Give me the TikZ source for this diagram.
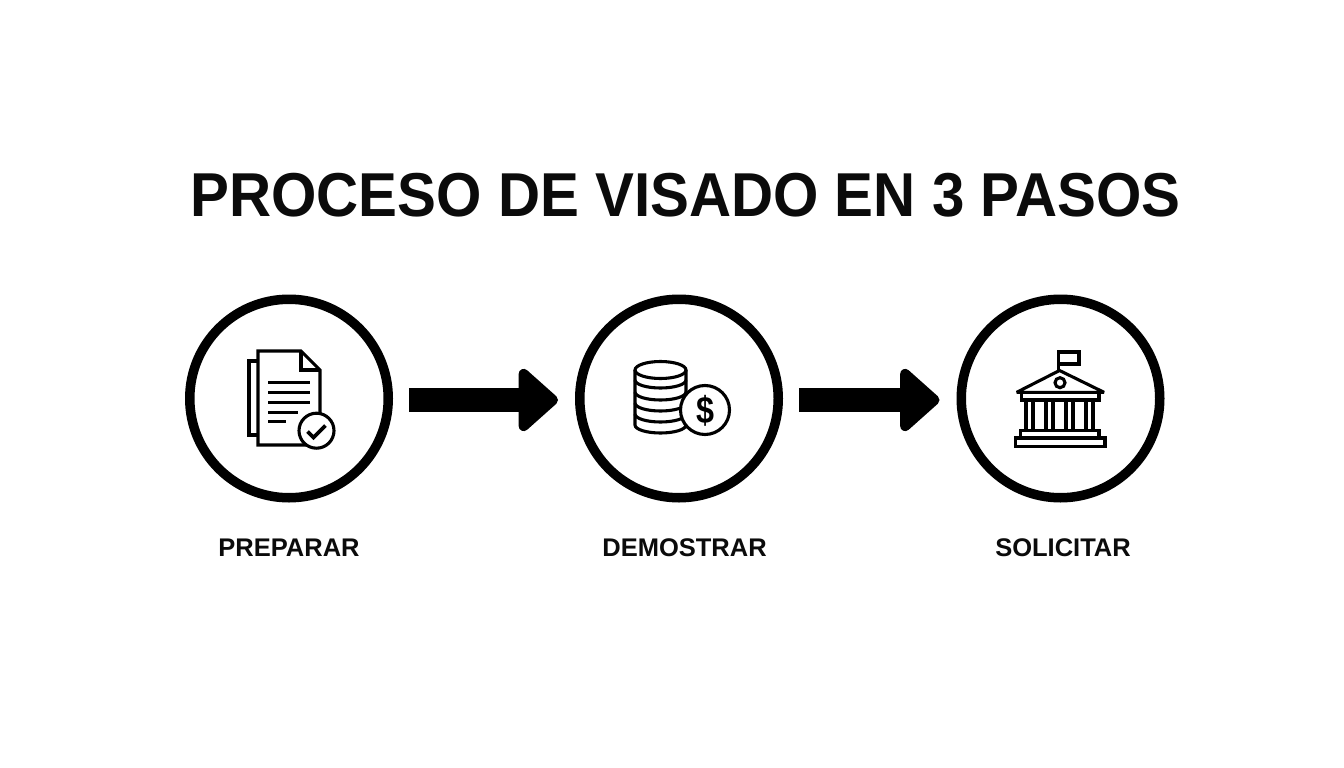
\documentclass[tikz,border=0pt]{standalone}
\usepackage{fontspec}
\setmainfont{Liberation Sans}
\newfontfamily\titlefont[FakeStretch=0.94]{Liberation Sans}
\newfontfamily\dollarfont[FakeStretch=0.85]{Liberation Sans}
\usetikzlibrary{arrows.meta}
\definecolor{ink}{HTML}{0B0B0B}
\tikzset{
  ring/.style={circle,draw=black,line width=9.5pt,fill=white,minimum size=198.5pt,inner sep=0pt},
  titletext/.style={anchor=base,font=\fontsize{62}{62}\titlefont\bfseries,text=ink},
  steplabel/.style={anchor=base,font=\fontsize{25.5}{26}\selectfont\bfseries,text=ink},
  flow/.style={draw=black,line width=24.6pt,shorten <=16pt,shorten >=17pt,
    -{Triangle[round,length=42pt,width=72pt,line width=10pt]}},
  icon/.style={draw=black,line width=3.1pt,line join=miter,miter limit=3,line cap=butt},
}
\begin{document}
\begin{tikzpicture}[x=1pt,y=-1pt]
\useasboundingbox[fill=white] (0,0) rectangle (1344,768);
\node[titletext] (title) at (685.5,216) {PROCESO DE VISADO EN 3 PASOS};
\node[ring] (c1) at (289,398.5) {};
\node[ring] (c2) at (679,398.5) {};
\node[ring] (c3) at (1060.5,398.5) {};
\node[steplabel] (l1) at (289,556) {PREPARAR};
\node[steplabel] (l2) at (684.5,556) {DEMOSTRAR};
\node[steplabel] (l3) at (1063,556) {SOLICITAR};
\draw[flow] ([yshift=-1.5pt]c1.east) -- ([yshift=-1.5pt]c2.west);
\draw[flow] ([yshift=-1.5pt]c2.east) -- ([yshift=-1.5pt]c3.west);
% document icon
\draw[icon] (258,361) -- (249,361) -- (249,435) -- (258,435);
\draw[icon] (258,351) -- (301,351) -- (320,370) -- (320,445) -- (258,445) -- cycle;
\draw[icon] (301,351) -- (301,370) -- (320,370);
\foreach \yy/\xx in {382.7/310,392.3/310,402.3/310,412.3/298,421.7/286}
  \draw[icon] (268,\yy) -- (\xx,\yy);
\draw[icon,fill=white] (316.5,430.7) circle[radius=17.5];
\draw[icon,line width=3.6pt] (307.5,431.5) -- (313.5,437.5) -- (325.5,425.5);
% coins icon
\draw[icon] (635,370) -- (635,425) arc[start angle=180,end angle=0,x radius=25.5,y radius=8] -- (686,370);
\draw[icon] (660.5,370) ellipse[x radius=25.5,y radius=8.5];
\foreach \yy in {380,392,403,414}
  \draw[icon] (635,\yy) arc[start angle=180,end angle=0,x radius=25.5,y radius=8];
\draw[icon,fill=white] (705,410) circle[radius=24.5];
\node[font=\fontsize{38}{38}\dollarfont\bfseries,text=black,inner sep=0pt] (dollar) at (705,411) {\$};
% bank icon
\draw[icon] (1058.5,370) -- (1058.5,352) -- (1079,352) -- (1079,364) -- (1058.5,364);
\draw[icon] (1059.5,370.5) -- (1104,392.3) -- (1016.7,392.3) -- cycle;
\draw[icon] (1060,382.7) circle[radius=5];
\draw[icon] (1021.7,392.3) rectangle (1099,400);
\foreach \xx in {1026,1046,1066,1086}
  \draw[icon] (\xx,400) rectangle (\xx+7,430.7);
\draw[icon] (1020.7,430.7) rectangle (1099,438);
\draw[icon] (1015.7,438) rectangle (1105,446.5);
\end{tikzpicture}
\end{document}
